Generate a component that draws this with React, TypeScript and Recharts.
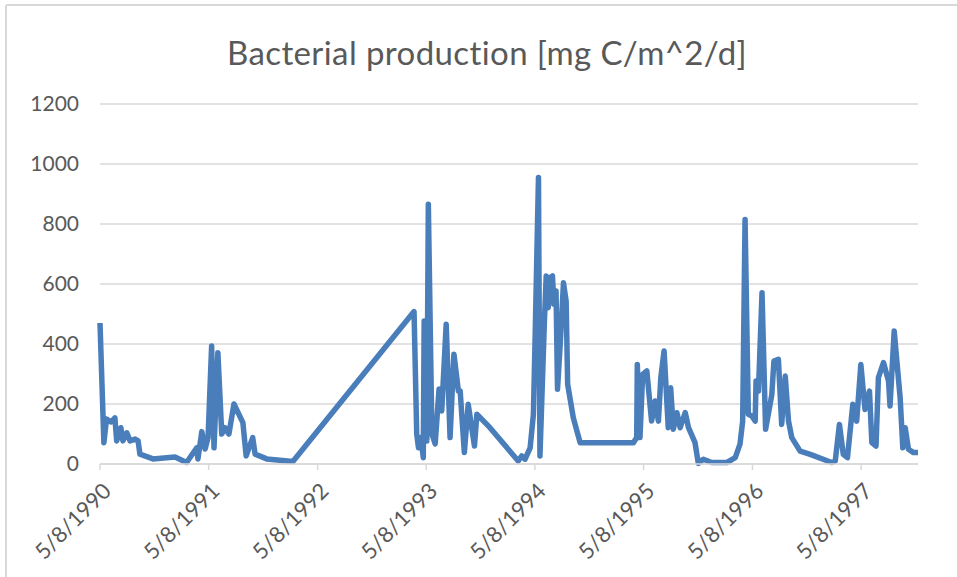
import { LineChart, Line, XAxis, YAxis, CartesianGrid } from 'recharts';

// sampling dates and bacterial production [mg C/m^2/d]
const sampleDates = [
  '1990-05-08', '1990-05-21', '1990-05-30', '1990-06-14', '1990-06-27', '1990-07-03',
  '1990-07-17', '1990-07-24', '1990-08-06', '1990-08-17', '1990-09-03', '1990-09-13',
  '1990-09-19', '1990-11-02', '1991-01-15', '1991-02-23', '1991-03-29', '1991-04-02',
  '1991-04-15', '1991-04-26', '1991-05-06', '1991-05-18', '1991-05-26', '1991-06-08',
  '1991-06-21', '1991-07-02', '1991-07-15', '1991-08-01', '1991-08-31', '1991-09-11',
  '1991-10-03', '1991-10-11', '1991-11-19', '1992-02-15', '1993-03-28', '1993-04-06',
  '1993-04-12', '1993-04-20', '1993-04-28', '1993-05-01', '1993-05-10', '1993-05-15',
  '1993-05-27', '1993-06-07', '1993-06-20', '1993-06-29', '1993-07-14', '1993-07-27',
  '1993-08-09', '1993-08-24', '1993-08-30', '1993-09-13', '1993-09-26', '1993-10-17',
  '1993-10-25', '1993-12-08', '1994-03-13', '1994-03-25', '1994-04-05', '1994-04-22',
  '1994-05-03', '1994-05-09', '1994-05-20', '1994-05-25', '1994-06-09', '1994-06-15',
  '1994-06-22', '1994-06-28', '1994-07-06', '1994-07-11', '1994-07-18', '1994-07-23',
  '1994-08-01', '1994-08-12', '1994-08-21', '1994-08-26', '1994-09-14', '1994-10-07',
  '1995-04-04', '1995-04-15', '1995-04-17', '1995-04-26', '1995-05-05', '1995-05-19',
  '1995-06-04', '1995-06-16', '1995-06-27', '1995-07-05', '1995-07-16', '1995-07-30',
  '1995-08-07', '1995-08-16', '1995-08-28', '1995-09-08', '1995-09-25', '1995-10-06',
  '1995-10-28', '1995-11-08', '1995-11-25', '1995-12-23', '1996-02-12', '1996-03-11',
  '1996-03-27', '1996-04-05', '1996-04-13', '1996-04-24', '1996-05-06', '1996-05-17',
  '1996-05-20', '1996-05-28', '1996-06-09', '1996-06-21', '1996-07-12', '1996-07-19',
  '1996-08-03', '1996-08-14', '1996-08-26', '1996-09-06', '1996-09-17', '1996-10-15',
  '1996-11-18', '1997-01-29', '1997-02-10', '1997-02-24', '1997-03-09', '1997-03-23',
  '1997-04-10', '1997-04-23', '1997-05-07', '1997-05-21', '1997-06-05', '1997-06-13',
  '1997-06-27', '1997-07-05', '1997-07-22', '1997-08-08', '1997-08-13', '1997-08-27',
  '1997-09-16', '1997-09-25', '1997-10-03', '1997-10-14', '1997-10-31', '1997-11-15',
];

const production = [
  470, 71, 150, 140, 154, 77,
  121, 77, 104, 77, 83, 77,
  33, 17, 23, 5, 54, 17,
  108, 50, 88, 393, 54, 371,
  100, 121, 100, 200, 138, 27,
  88, 33, 17, 8, 508, 100,
  54, 88, 21, 477, 77, 866,
  100, 67, 250, 177, 466, 88,
  366, 243, 243, 38, 199, 60,
  166, 121, 10, 27, 16, 54,
  166, 433, 955, 27, 477, 627,
  521, 621, 627, 533, 577, 249,
  399, 604, 543, 266, 154, 71,
  71, 88, 332, 88, 299, 310,
  143, 210, 143, 288, 377, 121,
  254, 116, 171, 121, 171, 121,
  71, 2, 16, 5, 5, 21,
  66, 143, 815, 166, 160, 143,
  277, 243, 571, 116, 232, 343,
  349, 132, 293, 143, 88, 43,
  32, 5, 10, 132, 32, 21,
  199, 143, 332, 182, 243, 71,
  60, 288, 338, 277, 193, 443,
  221, 54, 121, 49, 38, 38,
];

const tickYears = [1990, 1991, 1992, 1993, 1994, 1995, 1996, 1997];
const yTicks = [0, 200, 400, 600, 800, 1000, 1200];

const toTime = (s: string) => {
  const [y, m, d] = s.split('-').map(Number);
  return Date.UTC(y, m - 1, d);
};

const data = sampleDates.map((d, i) => ({ t: toTime(d), value: production[i] }));
const xTicks = tickYears.map((y) => Date.UTC(y, 4, 8));
const xDomain = [data[0].t, data[data.length - 1].t];

const FONT = 'Lato, "Open Sans", sans-serif';
const TEXT = '#595959';
const GRID = '#d9d9d9';

const formatDate = (t: number) => {
  const d = new Date(t);
  return `${d.getUTCMonth() + 1}/${d.getUTCDate()}/${d.getUTCFullYear()}`;
};

const XTick = ({ x, y, payload }: any) => (
  <g transform={`translate(${x + 7},${y + 15})`}>
    <text transform="rotate(-45)" textAnchor="end" dy="0.35em" fill={TEXT} fontSize={22} fontFamily={FONT}>
      {formatDate(payload.value)}
    </text>
  </g>
);

const YTick = ({ x, y, payload }: any) => (
  <text x={x} y={y} textAnchor="end" dy="0.35em" fill={TEXT} fontSize={21} fontFamily={FONT}>
    {payload.value}
  </text>
);

export default function App() {
  return (
    <div style={{ position: 'absolute', left: 0, top: 0, width: 957, height: 577, background: '#fff', overflow: 'hidden' }}>
      <LineChart width={957} height={577} data={data} margin={{ top: 104, right: 39, bottom: 0, left: 0 }}>
        <CartesianGrid vertical={false} stroke={GRID} strokeWidth={1.5} />
        <XAxis
          dataKey="t"
          type="number"
          scale="time"
          domain={xDomain}
          ticks={xTicks}
          height={113}
          interval={0}
          stroke={GRID}
          strokeWidth={1.5}
          tickSize={6}
          tick={<XTick />}
        />
        <YAxis
          domain={[0, 1200]}
          ticks={yTicks}
          width={100}
          axisLine={false}
          tickLine={false}
          tickSize={6}
          tickMargin={15}
          tick={<YTick />}
        />
        <Line
          type="linear"
          dataKey="value"
          stroke="#4a7ebb"
          strokeWidth={5.5}
          strokeLinejoin="round"
          dot={false}
          isAnimationActive={false}
        />
      </LineChart>
      <svg width={957} height={577} style={{ position: 'absolute', left: 0, top: 0, pointerEvents: 'none' }}>
        <line x1={6} y1={5} x2={957} y2={5} stroke={GRID} strokeWidth={2} />
        <line x1={6} y1={5} x2={6} y2={577} stroke={GRID} strokeWidth={2} />
        <text x={487} y={65} textAnchor="middle" fill={TEXT} fontSize={33} letterSpacing={0.4} fontFamily={FONT}>
          Bacterial production [mg C/m^2/d]
        </text>
      </svg>
    </div>
  );
}
